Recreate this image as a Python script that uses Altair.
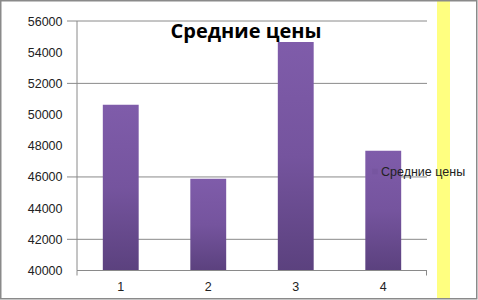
import altair as alt
import pandas as pd

categories = ["1", "2", "3", "4"]
values = [50630, 45885, 54653, 47680]
y_ticks = [40000, 42000, 44000, 46000, 48000, 50000, 52000, 54000, 56000]
grid_values = [42000, 46000, 52000, 56000]
series_name = "Средние цены"
title_text = "Средние цены"

W, H = 350, 249.5
L, T = 77, 21

df = pd.DataFrame({"cat": categories, "value": values})
gdf = pd.DataFrame({"g": grid_values})

xs = alt.X("cat:N", sort=categories, scale=alt.Scale(paddingInner=0.59, paddingOuter=0.295),
           axis=alt.Axis(title=None, labelAngle=0, domain=False, ticks=False, grid=False,
                         labelFont="Liberation Sans", labelFontSize=12.5, labelColor="#222",
                         labelPadding=10))
ys = alt.Scale(domain=[40000, 56000], nice=False, zero=False)
yaxis_def = alt.Axis(values=y_ticks, domain=False, ticks=False, grid=False,
                     labelFont="Liberation Sans", labelFontSize=12.5, labelColor="#222",
                     labelPadding=15, format="d")

grad = alt.Gradient(gradient="linear",
                    stops=[alt.GradientStop(color="#7F5CAA", offset=0),
                           alt.GradientStop(color="#75549E", offset=0.5),
                           alt.GradientStop(color="#5B417E", offset=1)],
                    x1=0, x2=0, y1=0, y2=1)

grid = alt.Chart(gdf).mark_rule(color="#8a8a8a", strokeWidth=1).encode(
    y=alt.Y("g:Q", scale=ys, title=None, axis=yaxis_def),
    x=alt.value(-10), x2=alt.value(W))

bars = alt.Chart(df).mark_bar(color=grad, clip=True).encode(
    x=xs,
    y=alt.Y("value:Q", scale=ys, title=None, axis=yaxis_def),
    y2=alt.datum(40000))

frame = pd.DataFrame({"a": [0]})
yaxis = alt.Chart(frame).mark_rule(color="#8a8a8a").encode(
    x=alt.value(0), y=alt.value(0), y2=alt.value(H))
xaxis = alt.Chart(frame).mark_rule(color="#8a8a8a").encode(
    x=alt.value(0), x2=alt.value(W), y=alt.value(H))
tick_l = alt.Chart(frame).mark_rule(color="#8a8a8a").encode(
    x=alt.value(0), y=alt.value(H), y2=alt.value(H + 5))
tick_r = alt.Chart(frame).mark_rule(color="#8a8a8a").encode(
    x=alt.value(W - 0.5), y=alt.value(H), y2=alt.value(H + 5))

yellow = alt.Chart(frame).mark_rect(color="#FFFF80").encode(
    x=alt.value(437 - L), x2=alt.value(450 - L), y=alt.value(-T + 1), y2=alt.value(300 - T - 1))

border = alt.Chart(frame).mark_rect(fill=None, stroke="#8a8a8a", strokeWidth=1.5).encode(
    x=alt.value(-L + 0.75), x2=alt.value(478 - L - 1.25),
    y=alt.value(-T + 0.75), y2=alt.value(300 - T - 1.25))

title = alt.Chart(frame).mark_text(text=title_text, font="Open Sans", fontWeight="bold",
                                   fontSize=20, color="#000", align="center",
                                   baseline="alphabetic").encode(
    x=alt.value(246 - L), y=alt.value(38 - T))

leg_sym = alt.Chart(frame).mark_square(color="#75549E", size=30).encode(
    x=alt.value(375 - L), y=alt.value(171.5 - T))
leg_txt = alt.Chart(frame).mark_text(text=series_name, font="Liberation Sans", fontSize=12.5,
                                     color="#222", align="left", baseline="middle").encode(
    x=alt.value(381 - L), y=alt.value(171.5 - T))

chart = alt.layer(yellow, border, grid, bars, yaxis, xaxis, tick_l, tick_r,
                  title, leg_sym, leg_txt).properties(
    width=W, height=H,
    autosize=alt.AutoSizeParams(type="none"),
    padding={"left": L, "top": T, "right": 478 - L - W, "bottom": 300 - T - H},
    background="white",
).configure_view(stroke=None)

chart.save("out.html", embed_options={"renderer": "svg", "actions": False})
